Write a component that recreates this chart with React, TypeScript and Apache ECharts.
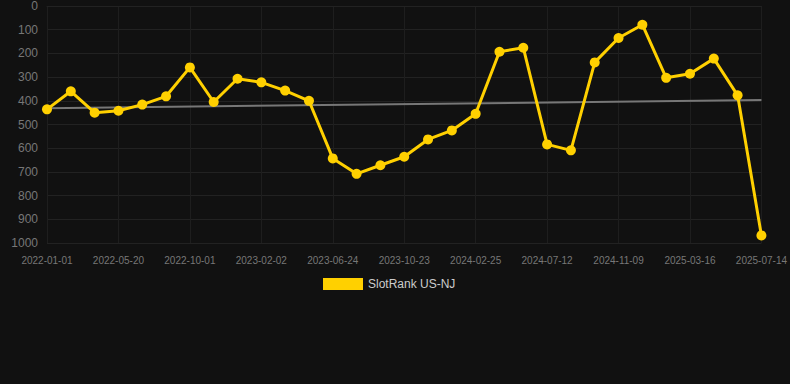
import React, { useEffect, useRef } from "react";
import * as echarts from "echarts";

const dates = [
  "2022-01-01", "2022-02-16", "2022-04-03", "2022-05-20", "2022-07-04", "2022-08-17",
  "2022-10-01", "2022-11-11", "2022-12-22", "2023-02-02", "2023-03-19", "2023-05-06",
  "2023-06-24", "2023-08-03", "2023-09-12", "2023-10-23", "2023-12-04", "2024-01-14",
  "2024-02-25", "2024-04-10", "2024-05-26", "2024-07-12", "2024-08-21", "2024-09-30",
  "2024-11-09", "2024-12-21", "2025-02-01", "2025-03-16", "2025-04-25", "2025-06-04",
  "2025-07-14",
];

const rankValues = [
  436, 360, 450, 442, 416, 381, 259, 405, 307, 322, 357, 400,
  643, 708, 672, 636, 563, 525, 455, 193, 176, 584, 609, 238,
  135, 79, 303, 286, 222, 377, 968,
];

const trendStart = 431;
const trendEnd = 397;

const yTicks = { min: 0, max: 1000, interval: 100 };

export default function App() {
  const ref = useRef<HTMLDivElement>(null);
  useEffect(() => {
    document.body.style.margin = "0";
    document.body.style.background = "#111111";
    if (!ref.current) return;
    const chart = echarts.init(ref.current, null, { renderer: "svg" });
    chart.setOption({
      animation: false,
      backgroundColor: "#111111",
      grid: { left: 47, right: 28, top: 6, bottom: 141, containLabel: false },
      legend: {
        show: true,
        top: 273,
        left: 318,
        icon: "rect",
        itemWidth: 40,
        itemHeight: 12,
        itemGap: 6,
        data: ["SlotRank US-NJ"],
        textStyle: { color: "#cccccc", fontSize: 12, fontFamily: "Liberation Sans, Arial, sans-serif" },
      },
      xAxis: {
        type: "category",
        data: dates,
        boundaryGap: false,
        axisLine: { show: true, lineStyle: { color: "#222222" } },
        axisTick: { show: false },
        axisLabel: {
          interval: 2,
          color: "#777777",
          fontSize: 10,
          margin: 12,
          fontFamily: "Liberation Sans, Arial, sans-serif",
        },
        splitLine: { show: true, interval: 2, lineStyle: { color: "#1e1e1e", width: 1 } },
      },
      yAxis: {
        type: "value",
        inverse: true,
        min: yTicks.min,
        max: yTicks.max,
        interval: yTicks.interval,
        axisLine: { show: false },
        axisTick: { show: false },
        axisLabel: {
          color: "#777777",
          fontSize: 12,
          margin: 9,
          formatter: (v: number) => String(v),
          fontFamily: "Liberation Sans, Arial, sans-serif",
        },
        splitLine: { show: true, lineStyle: { color: "#222222", width: 1 } },
      },
      series: [
        {
          name: "Trend",
          type: "line",
          data: [
            [dates[0], trendStart],
            [dates[dates.length - 1], trendEnd],
          ],
          showSymbol: false,
          symbol: "none",
          lineStyle: { color: "#777777", width: 2 },
          itemStyle: { color: "#777777" },
          z: 1,
          silent: true,
        },
        {
          name: "SlotRank US-NJ",
          type: "line",
          data: rankValues,
          symbol: "circle",
          symbolSize: 10,
          lineStyle: { color: "#FFD000", width: 3 },
          itemStyle: { color: "#FFD000" },
          z: 2,
        },
      ],
    });
    return () => chart.dispose();
  }, []);
  return <div ref={ref} style={{ width: 790, height: 384 }} />;
}
